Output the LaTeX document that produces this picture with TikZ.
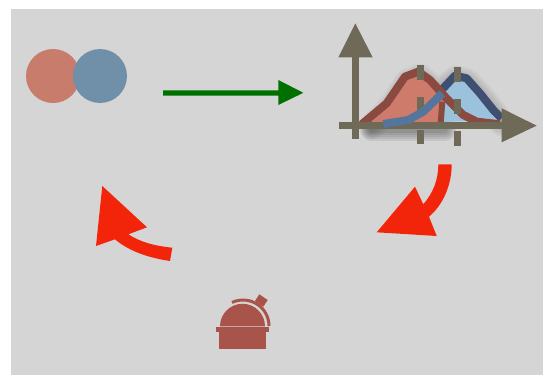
\documentclass[tikz,border=0pt]{standalone}
\definecolor{bgg}{HTML}{D5D5D5}
\definecolor{axisc}{HTML}{6F6A58}
\definecolor{redf}{HTML}{CE7B6C}
\definecolor{redl}{HTML}{8A4A3F}
\definecolor{bluef}{HTML}{9AC2DC}
\definecolor{bluel}{HTML}{3F4F72}
\definecolor{bluem}{HTML}{54769C}
\definecolor{circr}{HTML}{C87C6C}
\definecolor{circb}{HTML}{7090AA}
\definecolor{arrred}{HTML}{F2250A}
\definecolor{arrgreen}{HTML}{007000}
\definecolor{domec}{HTML}{A8544A}
\tikzset{curveline/.style={line width=8pt,line join=round},
  zoomed/.style={shift={(330,15)},x=0.3333pt,y=-0.3333pt}}
\begin{document}
\begin{tikzpicture}[x=1pt,y=-1pt]
\useasboundingbox (0,0) rectangle (543,375);
\fill[white] (0,0) rectangle (543,375);
\fill[bgg] (11,9) rectangle (543,375);
% circles
\fill[circr] (53,76) circle (27);
\fill[circb] (100,76) circle (27);
% green arrow
\fill[arrgreen] (163,90.3) -- (278.3,90.3) -- (278.3,80) -- (303.3,92.8) -- (278.3,105) -- (278.3,95.7) -- (163,95.7) -- cycle;
% density plot
\begin{scope}[zoomed]
  % soft shadow
  \foreach \w in {26,22,18,14,10}
    \draw[black,opacity=0.035,line width=\w pt,line join=round,line cap=round]
      (125,335) -- (180,280) -- (232,200) -- (270,185) -- (310,220) -- (340,220) -- (378,190) -- (412,200) -- (455,245) -- (495,295) -- (515,325);
  \foreach \w in {22,18,14,10,6}
    \draw[black,opacity=0.07,line width=\w pt,line cap=round] (125,345) -- (345,345);
  % blue density
  \fill[bluef] (325,320) -- (340,225) -- (375,190) -- (405,197) -- (445,240) -- (485,290) -- (515,318) -- cycle;
  \draw[bluel,curveline] (335,225) -- (375,182) -- (410,190) -- (450,235) -- (490,285) -- (515,310);
  % red density
  \fill[redf] (115,330) -- (180,270) -- (230,195) -- (270,180) -- (300,210) -- (342,255) -- (330,325) -- cycle;
  \draw[redl,curveline] (95,328) -- (170,265) -- (225,185) -- (265,170) -- (300,195) -- (345,245) -- (400,300) -- (440,320) -- (510,328);
  \draw[redl,line width=6pt] (337,260) -- (332,325);
  % axes
  \fill[axisc] (65,125) rectangle (88,372);
  \fill[axisc] (76,25) -- (128,127) -- (25,127) -- cycle;
  \fill[axisc] (28,320) rectangle (516,343);
  \fill[axisc] (620,332) -- (515,382) -- (515,280) -- cycle;
  % ticks
  \fill[axisc] (260,150) rectangle (283,195);
  \fill[axisc] (260,247) rectangle (283,290);
  \fill[axisc] (260,345) rectangle (283,388);
  \fill[axisc] (371,155) rectangle (394,200);
  \fill[axisc] (371,252) rectangle (394,296);
  \fill[axisc] (371,348) rectangle (394,393);
  % rising line
  \draw[bluem,line width=8pt,line join=round] (160,327) -- (235,315) -- (280,290) -- (337,235);
\end{scope}
% red arrows
\fill[arrred] (438.3,164.3) -- (451.7,164.3) .. controls (451.7,185) and (443,205) .. (429,216.7)
  -- (436.7,236) -- (376.7,232.3) -- (415,186.7) -- (423.3,204.3) .. controls (433,193) and (438.3,180) .. (438.3,164.3) -- cycle;
\fill[arrred] (172.3,247.7) -- (170,261) .. controls (150,258) and (130,252) .. (115,239.3)
  -- (96,246) -- (102.3,186) -- (147,227.3) -- (128.3,234.3) .. controls (140,242) and (155,246) .. (172.3,247.7) -- cycle;
% observatory
\fill[domec] (219,331) rectangle (265.7,349.3);
\fill[domec] (215.7,327.3) rectangle (269,332);
\fill[domec] (220,326.3) arc[start angle=180,end angle=360,radius=22.5] -- cycle;
\draw[domec,line width=3pt] (243,326) ++(245:26) arc[start angle=245,end angle=360,radius=26];
\fill[domec] (259.3,294.3) -- (267.7,300) -- (263.3,306.7) -- (255,301) -- cycle;
\end{tikzpicture}
\end{document}
